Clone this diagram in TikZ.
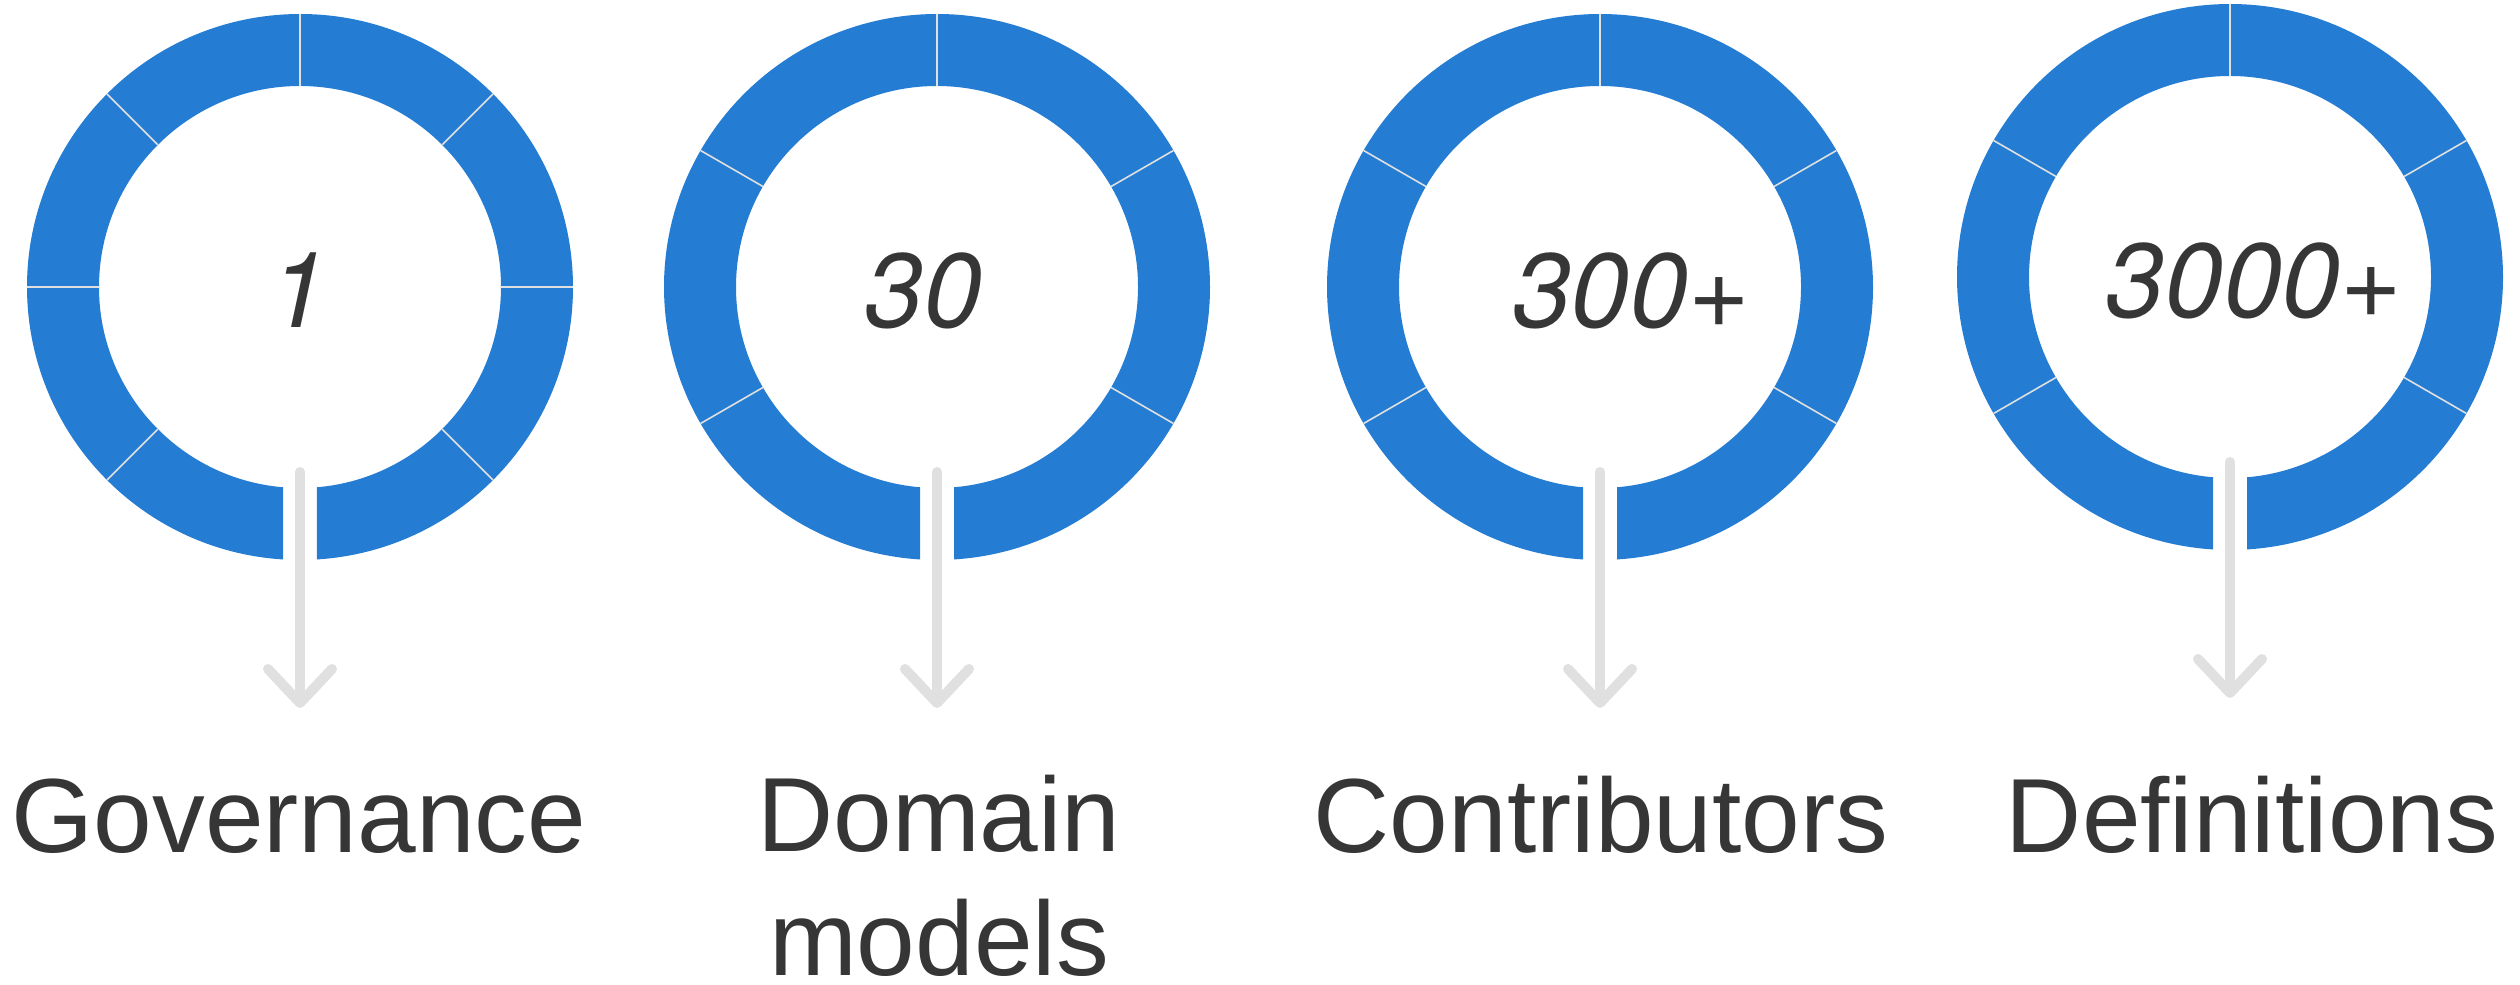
\documentclass[tikz,border=0pt]{standalone}
\usepackage{fontspec}
\setmainfont{Liberation Sans}
\newfontfamily\numfont{TeX Gyre Heros}
\usetikzlibrary{arrows.meta, calc}
\definecolor{ringblue}{RGB}{37,125,211}
\definecolor{textgray}{RGB}{54,54,54}
\definecolor{arrowgray}{RGB}{224,224,224}

% ring with a cut at the bottom, #1 centre, #2 divider angles
\newcommand{\ringchart}[2]{%
  \fill[ringblue] ($(#1)+(-86.43:2.73)$) arc[start angle=-86.43, end angle=266.43, radius=2.73]
    -- ($(#1)+(265.15:2.01)$) arc[start angle=265.15, end angle=-85.15, radius=2.01] -- cycle;
  \foreach \ang in {#2} \draw[divider] ($(#1)+(\ang:2.01)$) -- ($(#1)+(\ang:2.73)$);
}

\begin{document}
\begin{tikzpicture}[
    numlabel/.style={font=\fontsize{30}{36}\selectfont\numfont\itshape, text=textgray, inner sep=0pt, anchor=base},
    namelabel/.style={font=\fontsize{30}{35}\selectfont, text=textgray, inner sep=0pt, anchor=base, align=center},
    divider/.style={white!88!black, line width=0.45pt},
    pointer/.style={arrowgray, line width=2.85pt, line cap=round, -{Straight Barb[length=3.4mm, width=6.4mm, round]}}]
    \useasboundingbox (0,0) rectangle (25.2,9.84);

    \coordinate (c1) at (3.00,6.97);
    \coordinate (c2) at (9.37,6.97);
    \coordinate (c3) at (16.00,6.97);
    \coordinate (c4) at (22.30,7.07);

    \ringchart{c1}{0,45,90,135,180,225,315}
    \ringchart{c2}{-30,30,90,150,210}
    \ringchart{c3}{-30,30,90,150,210}
    \ringchart{c4}{-30,30,90,150,210}

    \node[numlabel] (n1) at (2.99,6.56) {1};
    \node[numlabel] (n2) at (9.23,6.56) {30};
    \node[numlabel] (n3) at (16.31,6.56) {300+};
    \node[numlabel] (n4) at (22.54,6.66) {3000+};

    \foreach \i in {1,...,4} {
        \coordinate (t\i) at ($(c\i)+(0,-1.85)$);
        \coordinate (h\i) at ($(c\i)+(0,-4.21)$);
        \draw[pointer] (t\i) -- (h\i);
    }

    \node[namelabel] (l1) at (2.99,1.32) {Governance};
    % base of a two-line node sits on its last line
    \node[namelabel] (l2) at (9.39,0.09) {Domain\\models};
    \node[namelabel] (l3) at (16.01,1.32) {Contributors};
    \node[namelabel] (l4) at (22.52,1.32) {Definitions};
\end{tikzpicture}
\end{document}
